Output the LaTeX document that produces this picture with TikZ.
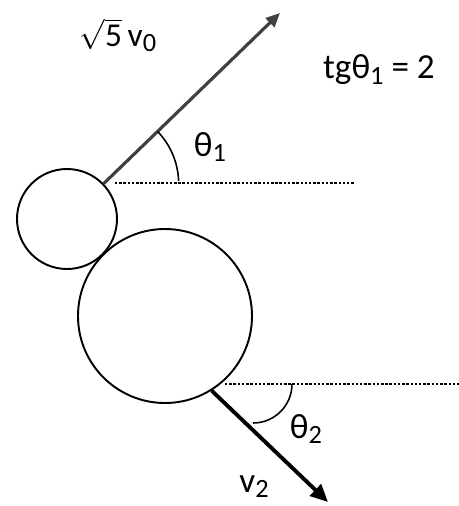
\documentclass[tikz,border=0pt]{standalone}
\usepackage{fontspec}
\setmainfont{Carlito}
\usetikzlibrary{arrows.meta}
\newcommand\lowidx[1]{\raisebox{-0.3ex}{\fontsize{15}{15}\selectfont #1}}
\begin{document}
\begin{tikzpicture}[
  ball/.style={draw,circle,line width=1.1pt,inner sep=0pt},
  lvl/.style={dash pattern=on 1.4pt off 1pt,line width=0.6pt},
  vel/.style={line width=1.8pt,-{Triangle[length=8pt,width=7pt]}},
  lab/.style={font=\fontsize{20}{20}\selectfont,inner sep=0pt}]
  \useasboundingbox (0,0) rectangle (9.18,-10.12);
  \node[ball,minimum size=2.0cm] (s) at (1.34,-4.38) {};
  \node[ball,minimum size=3.48cm] (b) at (3.30,-6.32) {};
  % outgoing velocities
  \coordinate (v0tip) at (5.6,-0.26);
  \coordinate (v2tip) at (6.56,-10.04);
  \draw[vel,black!75] (s.44) -- (v0tip);
  \draw[vel,line width=2.2pt,-{Triangle[length=10pt,width=9pt]}] (b.-58) -- (v2tip);
  % horizontals
  \coordinate (h1a) at (2.3,-3.66);
  \coordinate (h1b) at (7.1,-3.66);
  \coordinate (h2a) at (4.5,-7.68);
  \coordinate (h2b) at (9.18,-7.68);
  \draw[lvl] (h1a) -- (h1b);
  \draw[lvl] (h2a) -- (h2b);
  \draw[line width=0.9pt] (s.44) ++(44:1.5) arc[start angle=44,end angle=2,radius=1.5];
  \draw[line width=0.9pt] (5.84,-7.68) arc[start angle=0,end angle=-90,radius=0.78];
  \node[lab,font=\fontsize{19}{19}\selectfont] (v0) at (2.36,-0.7) {$\sqrt{\mbox{5}}$\,v\lowidx{0}};
  \node[lab] (tg) at (7.58,-1.4) {tgθ\lowidx{1} = 2};
  \node[lab] (t1) at (4.2,-2.94) {θ\lowidx{1}};
  \node[lab] (t2) at (6.12,-8.58) {θ\lowidx{2}};
  \node[lab] (v2) at (5.08,-9.74) {v\lowidx{2}};
\end{tikzpicture}
\end{document}
